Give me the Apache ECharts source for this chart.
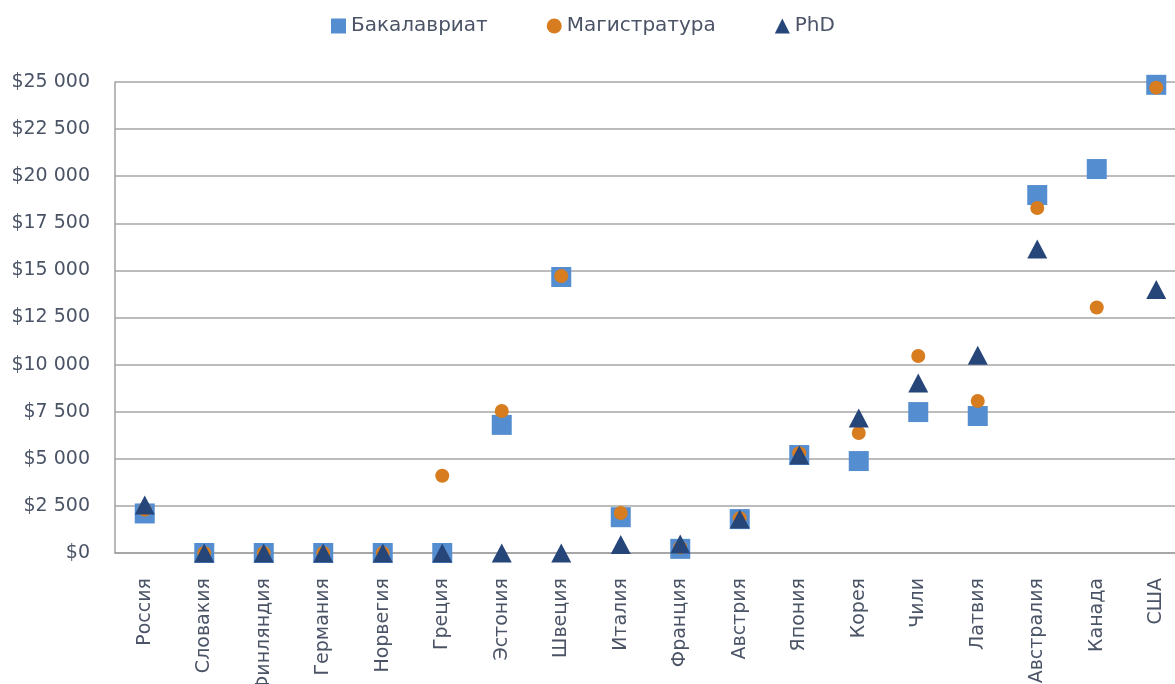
<!DOCTYPE html>
<html>
<head>
<meta charset="utf-8">
<script src="https://cdn.jsdelivr.net/npm/echarts@6/dist/echarts.min.js"></script>
<style>
html, body { margin: 0; padding: 0; background: #fff; }
#main { width: 1175px; height: 684px; }
</style>
</head>
<body>
<div id="main"></div>
<script>
// данные
const countries = ['Россия', 'Словакия', 'Финляндия', 'Германия', 'Норвегия', 'Греция', 'Эстония', 'Швеция', 'Италия',
	'Франция', 'Австрия', 'Япония', 'Корея', 'Чили', 'Латвия', 'Австралия', 'Канада', 'США'];
const bachelor = [2100, 0, 0, 0, 0, 0, 6800, 14650, 1900, 220, 1800, 5200, 4880, 7480, 7270, 19000, 20380, 24850];
const master = [2300, 0, 0, 0, 0, 4100, 7540, 14700, 2120, 300, 1850, 5300, 6370, 10460, 8070, 18310, 13030, 24700];
const phd = [2550, 0, 0, 0, 0, 0, 0, 0, 450, 480, 1800, 5200, 7160, 9020, 10500, 16140, null, 13990];

const textColor = '#4b5466';
const fontName = '"DejaVu Sans", sans-serif';

function money(v) {
	let s = String(Math.round(v));
	s = s.replace(/\B(?=(\d{3})+(?!\d))/g, ' ');
	return '$' + s;
}

let myChart = echarts.init(document.getElementById('main'));

let chartOption = {
	animation: false,
	textStyle: { fontFamily: fontName },
	legend: {
		left: 326,
		top: 11,
		itemWidth: 15,
		itemHeight: 15,
		itemGap: 59,
		textStyle: { color: textColor, fontSize: 20, fontFamily: fontName },
		data: ['Бакалавриат', 'Магистратура', 'PhD']
	},
	grid: {
		left: 115,
		right: -11,
		top: 82,
		bottom: 131,
		containLabel: false,
		outerBoundsMode: 'none'
	},
	xAxis: {
		type: 'category',
		data: countries,
		axisLine: { lineStyle: { color: '#a0a0a0', width: 1.5 } },
		axisTick: { show: false },
		axisLabel: {
			rotate: 90,
			margin: 25,
			color: textColor,
			fontSize: 19,
			fontFamily: fontName
		}
	},
	yAxis: {
		type: 'value',
		min: 0,
		max: 25000,
		interval: 2500,
		axisLine: { show: true, lineStyle: { color: '#a0a0a0', width: 1.5 } },
		axisTick: { show: false },
		splitLine: { lineStyle: { color: '#a6a6a6', width: 1.5 } },
		axisLabel: {
			margin: 25,
			color: textColor,
			fontSize: 19,
			fontFamily: fontName,
			formatter: money
		}
	},
	series: [
		{
			name: 'Бакалавриат',
			type: 'scatter',
			symbol: 'rect',
			symbolSize: 20,
			itemStyle: { color: '#558ed0', opacity: 1 },
			data: bachelor,
			z: 2
		},
		{
			name: 'Магистратура',
			type: 'scatter',
			symbol: 'circle',
			symbolSize: 14,
			itemStyle: { color: '#d77c1f', opacity: 1 },
			data: master,
			z: 3
		},
		{
			name: 'PhD',
			type: 'scatter',
			symbol: 'triangle',
			symbolSize: [20, 19],
			itemStyle: { color: '#26467a', opacity: 1 },
			data: phd,
			z: 4
		}
	]
};

chartOption && myChart.setOption(chartOption);
</script>
</body>
</html>
